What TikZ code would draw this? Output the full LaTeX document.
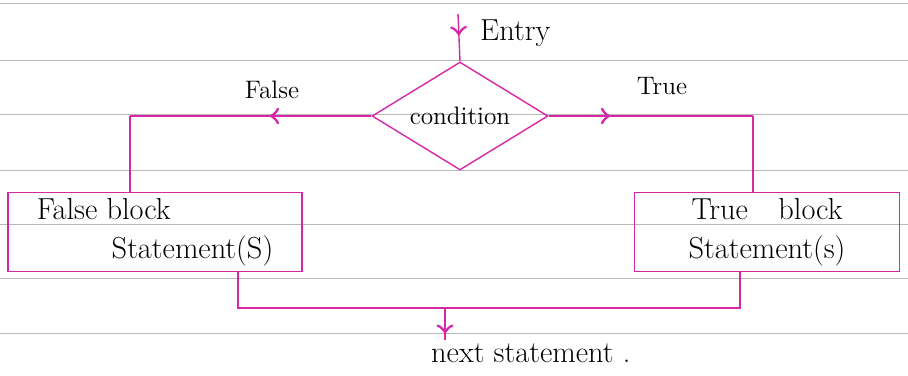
\documentclass[tikz,border=0pt]{standalone}
\usetikzlibrary{shapes.geometric,decorations.markings,arrows}
\definecolor{ink}{RGB}{214,40,166}
\tikzset{
  decision/.style={
    % The shape:
    diamond, aspect=1.6, inner sep=0pt,
    % The size:
    minimum width=3.52cm, minimum height=2.16cm,
    % The border:
    draw=ink, thick,
    font=\Large},
  block/.style={
    % The shape:
    rectangle,
    % The size:
    minimum height=1.5cm,
    % The rest
    draw=ink, thick, font=\LARGE},
  note/.style={font=\Large},
  flow/.style={ink, thick},
  mid tip/.style={postaction={decorate},
    decoration={markings, mark=at position #1 with {\arrow[scale=2]{>}}}},
  ruling/.style={draw=black!28, line width=0.5pt}
}

\begin{document}
\begin{tikzpicture}[x=0.02cm, y=-0.02cm, >=to]
  \useasboundingbox (0,0) rectangle (908,375);
  % ruled paper
  \foreach \y in {3,60,114,170,224,278,333}
    \draw[ruling] (0,\y) -- (908,\y);

  \node (cond)   [decision] at (460,116) {condition};
  \node (fblock) [block, minimum width=5.88cm, align=left] at (155,232)
    {False block\\\hspace{1.5cm}Statement(S)};
  \node (tblock) [block, minimum width=5.3cm, align=center] at (767,232)
    {True\quad block\\Statement(s)};
  \node (next)     [note, font=\LARGE, anchor=north west] at (425,338) {next statement .};
  \node (entrytxt) [note, font=\LARGE, anchor=west] at (474,33) {Entry};
  \node (falsetxt) [note] at (272,90) {False};
  \node (truetxt)  [note] at (662,86) {True};

  \coordinate (entry) at (458,14);
  \coordinate (fturn) at (130,116);
  \coordinate (tturn) at (753,116);
  \coordinate (fout)  at (238,308);
  \coordinate (tout)  at (740,308);
  \coordinate (merge) at (445,308);
  \coordinate (exit)  at (445,340);

  % branches
  \draw[flow, mid tip=0.45] (entry) -- (cond.north);
  \draw[flow, mid tip=0.42] (cond.west) -- (fturn);
  \draw[flow] (fturn) -- (fturn |- fblock.north);
  \draw[flow, mid tip=0.3] (cond.east) -- (tturn);
  \draw[flow] (tturn) -- (tturn |- tblock.north);
  % join both blocks
  \draw[flow] (fout |- fblock.south) -- (fout) -- (tout) -- (tout |- tblock.south);
  \draw[flow, mid tip=0.8] (merge) -- (exit);
\end{tikzpicture}
\end{document}
